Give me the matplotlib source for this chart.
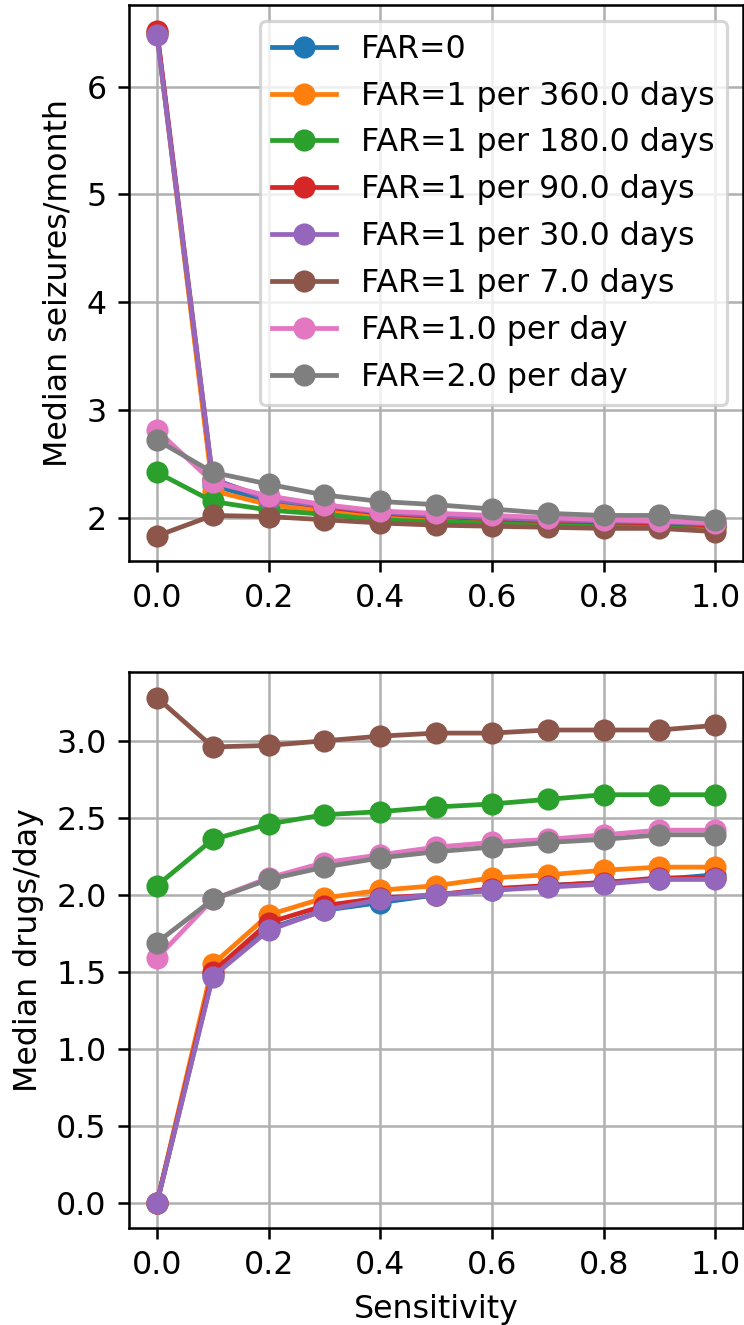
import matplotlib
matplotlib.use('Agg')
import matplotlib.pyplot as plt

sens = [0.0, 0.1, 0.2, 0.3, 0.4, 0.5, 0.6, 0.7, 0.8, 0.9, 1.0]

labels = ['FAR=0', 'FAR=1 per 360.0 days', 'FAR=1 per 180.0 days',
          'FAR=1 per 90.0 days', 'FAR=1 per 30.0 days', 'FAR=1 per 7.0 days',
          'FAR=1.0 per day', 'FAR=2.0 per day']

# median seizures/month
seiz_far0 = [6.50, 2.30, 2.15, 2.08, 2.03, 2.00, 1.98, 1.96, 1.95, 1.94, 1.93]
seiz_360 = [6.50, 2.25, 2.12, 2.06, 2.01, 1.98, 1.96, 1.95, 1.93, 1.91, 1.90]
seiz_180 = [2.42, 2.15, 2.07, 2.03, 1.98, 1.96, 1.95, 1.94, 1.93, 1.93, 1.92]
seiz_90 = [6.52, 2.35, 2.18, 2.10, 2.04, 2.01, 1.99, 1.97, 1.96, 1.95, 1.93]
seiz_30 = [6.48, 2.36, 2.17, 2.11, 2.05, 2.02, 2.00, 1.98, 1.97, 1.96, 1.94]
seiz_7 = [1.83, 2.02, 2.01, 1.98, 1.95, 1.93, 1.92, 1.91, 1.90, 1.90, 1.87]
seiz_1d = [2.81, 2.33, 2.20, 2.12, 2.06, 2.04, 2.02, 2.00, 1.98, 1.97, 1.95]
seiz_2d = [2.72, 2.42, 2.31, 2.21, 2.15, 2.12, 2.08, 2.04, 2.02, 2.02, 1.98]

# median drugs/day
drug_far0 = [0.00, 1.48, 1.78, 1.90, 1.95, 2.00, 2.03, 2.06, 2.08, 2.10, 2.13]
drug_360 = [0.00, 1.55, 1.87, 1.98, 2.03, 2.06, 2.11, 2.13, 2.16, 2.18, 2.18]
drug_180 = [2.06, 2.36, 2.46, 2.52, 2.54, 2.57, 2.59, 2.62, 2.65, 2.65, 2.65]
drug_90 = [0.00, 1.50, 1.82, 1.93, 1.98, 2.00, 2.04, 2.06, 2.08, 2.11, 2.11]
drug_30 = [0.00, 1.47, 1.77, 1.90, 1.97, 2.00, 2.03, 2.05, 2.07, 2.10, 2.10]
drug_7 = [3.28, 2.96, 2.97, 3.00, 3.03, 3.05, 3.05, 3.07, 3.07, 3.07, 3.10]
drug_1d = [1.59, 1.97, 2.11, 2.21, 2.26, 2.31, 2.34, 2.36, 2.39, 2.42, 2.42]
drug_2d = [1.69, 1.97, 2.10, 2.18, 2.24, 2.28, 2.31, 2.34, 2.36, 2.39, 2.39]

seizures = [seiz_far0, seiz_360, seiz_180, seiz_90, seiz_30, seiz_7, seiz_1d, seiz_2d]
drugs = [drug_far0, drug_360, drug_180, drug_90, drug_30, drug_7, drug_1d, drug_2d]

DPI = 228
fig, (ax1, ax2) = plt.subplots(2, 1, figsize=(744/DPI, 1325/DPI), dpi=DPI)
fig.subplots_adjust(left=0.1734, right=0.999, top=0.996, bottom=0.073, hspace=0.2)

for lab, ys in zip(labels, seizures):
    ax1.plot(sens, ys, 'o-', label=lab)
ax1.set_ylabel('Median seizures/month')
ax1.grid(True)
ax1.legend(loc='upper right')

for lab, ys in zip(labels, drugs):
    ax2.plot(sens, ys, 'o-', label=lab)
ax2.set_ylabel('Median drugs/day')
ax2.set_xlabel('Sensitivity')
ax2.grid(True)

fig.savefig('out.png', dpi=DPI)
